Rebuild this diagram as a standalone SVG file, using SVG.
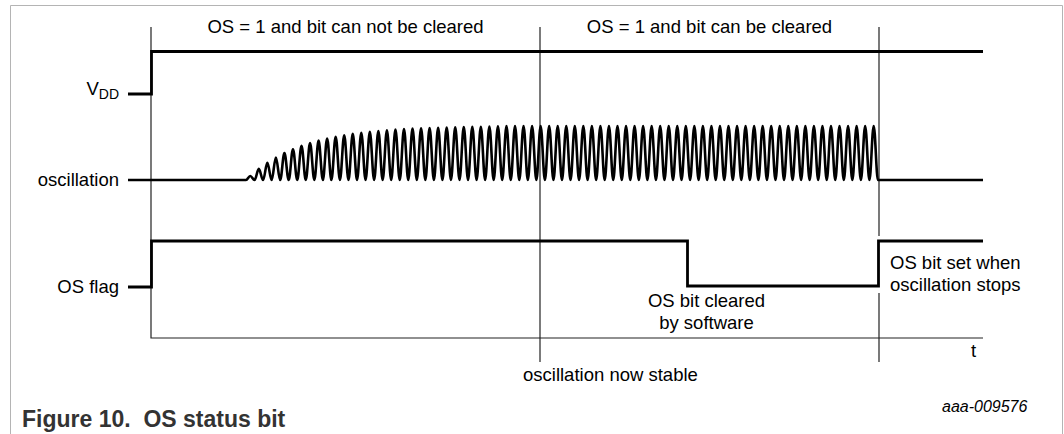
<svg xmlns="http://www.w3.org/2000/svg" width="1064" height="434" viewBox="0 0 1064 434">
<style>
.frame{fill:none;stroke:#b4b4b4;stroke-width:1}
.thin{fill:none;stroke:#222;stroke-width:1.2}
.sig{fill:none;stroke:#000;stroke-width:2.8;stroke-linejoin:miter}
.wave{fill:none;stroke:#000;stroke-width:2.6;stroke-linejoin:round}
text{font-family:"Liberation Sans",Arial,Helvetica,sans-serif;font-size:18.5px;fill:#000}
.mid{text-anchor:middle}
.end{text-anchor:end}
.id{font-style:italic;font-size:16px}
.cap{font-weight:bold;font-size:23px;fill:#333;white-space:pre}
</style>
<rect x="0" y="0" width="1064" height="434" fill="#fff"/>
<path class="frame" d="M10.5,434 V5.5 H1062.5 V434"/>
<g id="connectors">
<path class="thin" d="M151,27 V338 H983"/>
<path class="thin" d="M540,27 V362"/>
<path class="thin" d="M879,27 V236 M879,293 V362"/>
</g>
<g id="vdd">
<text class="end" x="119" y="94.5">V<tspan font-size="14" dy="4">DD</tspan></text>
<path class="sig" d="M128,94 H151.5 V51.5 H983"/>
</g>
<g id="oscillation">
<text class="end" x="119" y="186">oscillation</text>
<path class="wave" d="M128,180 H246
c1.56,0 2.71,-4 4.27,-4c1.56,0 2.71,4 4.27,4
c1.56,0 2.71,-11.1 4.27,-11.1c1.56,0 2.71,11.1 4.27,11.1
c1.56,0 2.71,-17.3 4.27,-17.3c1.56,0 2.71,17.3 4.27,17.3
c1.56,0 2.71,-22.5 4.27,-22.5c1.56,0 2.71,22.5 4.27,22.5
c1.56,0 2.71,-27 4.27,-27c1.56,0 2.71,27 4.27,27
c1.56,0 2.71,-30.8 4.27,-30.8c1.56,0 2.71,30.8 4.27,30.8
c1.56,0 2.71,-34.2 4.27,-34.2c1.56,0 2.71,34.2 4.27,34.2
c1.56,0 2.71,-37 4.27,-37c1.56,0 2.71,37 4.27,37
c1.56,0 2.71,-39.4 4.27,-39.4c1.56,0 2.71,39.4 4.27,39.4
c1.56,0 2.71,-41.5 4.27,-41.5c1.56,0 2.71,41.5 4.27,41.5
c1.56,0 2.71,-43.3 4.27,-43.3c1.56,0 2.71,43.3 4.27,43.3
c1.56,0 2.71,-44.8 4.27,-44.8c1.56,0 2.71,44.8 4.27,44.8
c1.56,0 2.71,-46.1 4.27,-46.1c1.56,0 2.71,46.1 4.27,46.1
c1.56,0 2.71,-47.2 4.27,-47.2c1.56,0 2.71,47.2 4.27,47.2
c1.56,0 2.71,-48.2 4.27,-48.2c1.56,0 2.71,48.2 4.27,48.2
c1.56,0 2.71,-49 4.27,-49c1.56,0 2.71,49 4.27,49
c1.56,0 2.71,-49.8 4.27,-49.8c1.56,0 2.71,49.8 4.27,49.8
c1.56,0 2.71,-50.4 4.27,-50.4c1.56,0 2.71,50.4 4.27,50.4
c1.56,0 2.71,-50.9 4.27,-50.9c1.56,0 2.71,50.9 4.27,50.9
c1.56,0 2.71,-51.4 4.27,-51.4c1.56,0 2.71,51.4 4.27,51.4
c1.56,0 2.71,-51.7 4.27,-51.7c1.56,0 2.71,51.7 4.27,51.7
c1.56,0 2.71,-52 4.27,-52c1.56,0 2.71,52 4.27,52
c1.56,0 2.71,-52.3 4.27,-52.3c1.56,0 2.71,52.3 4.27,52.3
c1.56,0 2.71,-52.5 4.27,-52.5c1.56,0 2.71,52.5 4.27,52.5
c1.56,0 2.71,-52.7 4.27,-52.7c1.56,0 2.71,52.7 4.27,52.7
c1.56,0 2.71,-52.9 4.27,-52.9c1.56,0 2.71,52.9 4.27,52.9
c1.56,0 2.71,-53.1 4.27,-53.1c1.56,0 2.71,53.1 4.27,53.1
c1.56,0 2.71,-53.3 4.27,-53.3c1.56,0 2.71,53.3 4.27,53.3
c1.56,0 2.71,-53.5 4.27,-53.5c1.56,0 2.71,53.5 4.27,53.5
c1.56,0 2.71,-53.7 4.27,-53.7c1.56,0 2.71,53.7 4.27,53.7
c1.56,0 2.71,-54 4.27,-54c1.56,0 2.71,54 4.27,54c1.56,0 2.71,-54 4.27,-54c1.56,0 2.71,54 4.27,54c1.56,0 2.71,-54 4.27,-54c1.56,0 2.71,54 4.27,54c1.56,0 2.71,-54 4.27,-54c1.56,0 2.71,54 4.27,54
c1.56,0 2.71,-54 4.27,-54c1.56,0 2.71,54 4.27,54c1.56,0 2.71,-54 4.27,-54c1.56,0 2.71,54 4.27,54c1.56,0 2.71,-54 4.27,-54c1.56,0 2.71,54 4.27,54c1.56,0 2.71,-54 4.27,-54c1.56,0 2.71,54 4.27,54
c1.56,0 2.71,-54 4.27,-54c1.56,0 2.71,54 4.27,54c1.56,0 2.71,-54 4.27,-54c1.56,0 2.71,54 4.27,54c1.56,0 2.71,-54 4.27,-54c1.56,0 2.71,54 4.27,54c1.56,0 2.71,-54 4.27,-54c1.56,0 2.71,54 4.27,54
c1.56,0 2.71,-54 4.27,-54c1.56,0 2.71,54 4.27,54c1.56,0 2.71,-54 4.27,-54c1.56,0 2.71,54 4.27,54c1.56,0 2.71,-54 4.27,-54c1.56,0 2.71,54 4.27,54c1.56,0 2.71,-54 4.27,-54c1.56,0 2.71,54 4.27,54
c1.56,0 2.71,-54 4.27,-54c1.56,0 2.71,54 4.27,54c1.56,0 2.71,-54 4.27,-54c1.56,0 2.71,54 4.27,54c1.56,0 2.71,-54 4.27,-54c1.56,0 2.71,54 4.27,54c1.56,0 2.71,-54 4.27,-54c1.56,0 2.71,54 4.27,54
c1.56,0 2.71,-54 4.27,-54c1.56,0 2.71,54 4.27,54c1.56,0 2.71,-54 4.27,-54c1.56,0 2.71,54 4.27,54c1.56,0 2.71,-54 4.27,-54c1.56,0 2.71,54 4.27,54c1.56,0 2.71,-54 4.27,-54c1.56,0 2.71,54 4.27,54
c1.56,0 2.71,-54 4.27,-54c1.56,0 2.71,54 4.27,54c1.56,0 2.71,-54 4.27,-54c1.56,0 2.71,54 4.27,54c1.56,0 2.71,-54 4.27,-54c1.56,0 2.71,54 4.27,54c1.56,0 2.71,-54 4.27,-54c1.56,0 2.71,54 4.27,54
c1.56,0 2.71,-54 4.27,-54c1.56,0 2.71,54 4.27,54c1.56,0 2.71,-54 4.27,-54c1.56,0 2.71,54 4.27,54c1.56,0 2.71,-54 4.27,-54c1.56,0 2.71,54 4.27,54c1.56,0 2.71,-54 4.27,-54c1.56,0 2.71,54 4.27,54
c1.56,0 2.71,-54 4.27,-54c1.56,0 2.71,54 4.27,54c1.56,0 2.71,-54 4.27,-54c1.56,0 2.71,54 4.27,54c1.56,0 2.71,-54 4.27,-54c1.56,0 2.71,54 4.27,54c1.56,0 2.71,-54 4.27,-54c1.56,0 2.71,54 4.27,54
c1.56,0 2.71,-54 4.27,-54c1.56,0 2.71,54 4.27,54c1.56,0 2.71,-54 4.27,-54c1.56,0 2.71,54 4.27,54c1.56,0 2.71,-54 4.27,-54c1.56,0 2.71,54 4.27,54c1.56,0 2.71,-54 4.27,-54c1.56,0 2.71,54 4.27,54
c1.56,0 2.71,-54 4.27,-54c1.56,0 2.71,54 4.27,54c1.56,0 2.71,-54 4.27,-54c1.56,0 2.71,54 4.27,54c1.56,0 2.71,-54 4.27,-54c1.56,0 2.71,54 4.27,54c1.56,0 2.71,-54 4.27,-54c1.56,0 2.71,54 4.27,54
H983"/>
</g>
<g id="os-flag">
<text class="end" x="119" y="293">OS flag</text>
<path class="sig" d="M128,287 H151.5 V241 H687.5 V286 H878.5 V241 H983"/>
</g>
<g id="phase-labels">
<text class="mid" x="345.5" y="32.5">OS = 1 and bit can not be cleared</text>
<text class="mid" x="709.5" y="32.5">OS = 1 and bit can be cleared</text>
</g>
<g id="annotations">
<text class="mid" x="706.5" y="307">OS bit cleared</text>
<text class="mid" x="706.5" y="329">by software</text>
<text x="890" y="269">OS bit set when</text>
<text x="890" y="291">oscillation stops</text>
<text x="971" y="357">t</text>
<text x="523" y="381">oscillation now stable</text>
<text class="id" x="942" y="412">aaa-009576</text>
</g>
<text class="cap" x="22" y="427">Figure 10.  OS status bit</text>
</svg>
